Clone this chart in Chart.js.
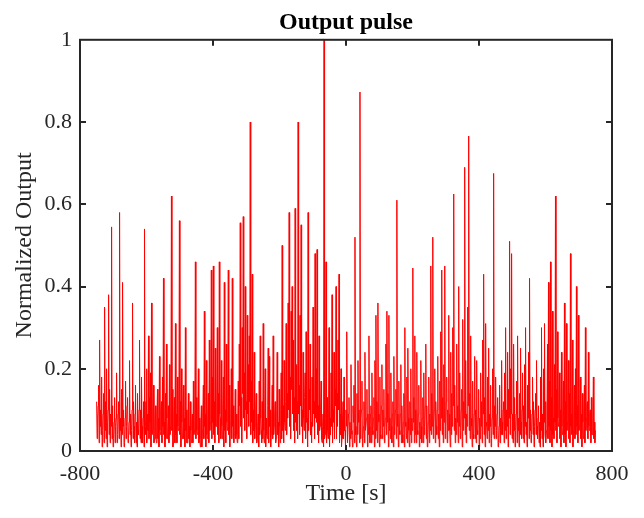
<!DOCTYPE html>
<html>
<head>
<meta charset="utf-8">
<script src="https://cdn.jsdelivr.net/npm/chart.js@4.4.1/dist/chart.umd.min.js"></script>
<style>
  html, body { margin: 0; padding: 0; background: #fff; }
  #wrap { width: 644px; height: 518px; }
</style>
</head>
<body>
<div id="wrap"><canvas id="pulse"></canvas></div>
<script>
// sampled output pulse, one value every 1.5 s starting at -750 s
const startTime = -750;
const sampleStep = 1.5;
const pulse = [
  0.12,0.03,0.08,0.11,0.16,0.02,0.27,0.06,0.10,0.04,0.18,0.01,0.05,0.09,0.14,0.02,0.35,0.05,0.12,0.03,0.20,0.01,0.07,0.10,0.38,0.04,0.15,0.02,0.09,0.06,0.545,0.03,0.11,0.01,0.03,0.07,0.13,0.02,0.06,0.08,
  0.19,0.02,0.04,0.09,0.12,0.03,0.58,0.05,0.08,0.01,0.15,0.04,0.41,0.06,0.10,0.01,0.02,0.08,0.17,0.03,0.06,0.11,0.13,0.02,0.03,0.07,0.22,0.04,0.09,0.01,0.05,0.10,0.36,0.03,0.12,0.06,0.02,0.09,0.16,0.02,
  0.07,0.01,0.14,0.05,0.04,0.10,0.27,0.03,0.10,0.02,0.18,0.06,0.02,0.08,0.12,0.01,0.54,0.04,0.06,0.12,0.20,0.02,0.09,0.05,0.28,0.03,0.13,0.07,0.19,0.01,0.36,0.04,0.05,0.09,0.16,0.02,0.03,0.07,0.11,0.03,
  0.02,0.08,0.15,0.03,0.08,0.01,0.23,0.05,0.04,0.10,0.12,0.02,0.18,0.06,0.42,0.04,0.07,0.01,0.14,0.03,0.26,0.08,0.03,0.06,0.11,0.02,0.21,0.04,0.06,0.11,0.62,0.05,0.15,0.01,0.02,0.09,0.13,0.02,0.31,0.04,
  0.09,0.02,0.18,0.06,0.05,0.11,0.56,0.04,0.12,0.01,0.20,0.07,0.03,0.09,0.16,0.03,0.08,0.01,0.30,0.05,0.10,0.02,0.02,0.08,0.14,0.03,0.06,0.01,0.12,0.05,0.02,0.07,0.09,0.02,0.17,0.04,0.05,0.10,0.46,0.03,
  0.13,0.05,0.04,0.10,0.20,0.02,0.08,0.03,0.01,0.07,0.11,0.01,0.05,0.09,0.16,0.03,0.34,0.06,0.09,0.01,0.22,0.04,0.03,0.08,0.14,0.02,0.27,0.05,0.07,0.12,0.44,0.03,0.18,0.07,0.45,0.04,0.12,0.02,0.25,0.06,
  0.06,0.12,0.30,0.04,0.14,0.02,0.46,0.09,0.08,0.03,0.22,0.06,0.03,0.10,0.18,0.01,0.41,0.05,0.10,0.02,0.26,0.07,0.05,0.13,0.44,0.04,0.16,0.01,0.07,0.09,0.20,0.03,0.42,0.06,0.11,0.02,0.04,0.08,0.15,0.03,
  0.09,0.04,0.02,0.08,0.17,0.03,0.26,0.11,0.555,0.06,0.13,0.02,0.30,0.14,0.57,0.08,0.19,0.05,0.40,0.10,0.12,0.03,0.33,0.09,0.21,0.06,0.28,0.12,0.80,0.04,0.17,0.07,0.43,0.02,0.10,0.05,0.24,0.03,0.06,0.10,
  0.14,0.02,0.03,0.06,0.09,0.01,0.17,0.04,0.28,0.08,0.05,0.02,0.12,0.03,0.31,0.05,0.02,0.09,0.20,0.01,0.08,0.04,0.03,0.11,0.25,0.02,0.23,0.06,0.10,0.01,0.04,0.08,0.16,0.03,0.28,0.04,0.06,0.09,0.12,0.02,
  0.03,0.09,0.24,0.04,0.07,0.01,0.15,0.06,0.02,0.10,0.19,0.03,0.50,0.05,0.11,0.02,0.22,0.07,0.05,0.12,0.31,0.04,0.14,0.08,0.36,0.10,0.58,0.06,0.18,0.03,0.34,0.15,0.40,0.09,0.27,0.05,0.13,0.02,0.59,0.07,
  0.21,0.05,0.12,0.03,0.80,0.09,0.16,0.04,0.33,0.11,0.55,0.06,0.10,0.02,0.24,0.08,0.05,0.13,0.19,0.03,0.29,0.07,0.08,0.01,0.58,0.05,0.15,0.10,0.26,0.04,0.07,0.02,0.18,0.06,0.35,0.09,0.12,0.03,0.48,0.08,
  0.20,0.07,0.49,0.04,0.11,0.02,0.28,0.05,0.06,0.10,0.17,0.03,0.02,0.06,0.09,0.01,1.00,0.03,0.04,0.08,0.46,0.02,0.13,0.05,0.03,0.09,0.30,0.01,0.08,0.04,0.19,0.06,0.38,0.02,0.10,0.07,0.24,0.03,0.15,0.11,
  0.40,0.03,0.14,0.06,0.27,0.10,0.43,0.02,0.09,0.04,0.20,0.01,0.03,0.08,0.12,0.03,0.18,0.05,0.05,0.01,0.10,0.06,0.29,0.02,0.02,0.09,0.13,0.01,0.07,0.03,0.21,0.05,0.04,0.01,0.11,0.07,0.16,0.02,0.52,0.04,
  0.06,0.01,0.14,0.04,0.22,0.07,0.10,0.02,0.873,0.03,0.08,0.10,0.17,0.01,0.03,0.06,0.12,0.02,0.24,0.05,0.05,0.08,0.15,0.01,0.09,0.04,0.28,0.06,0.02,0.09,0.11,0.02,0.19,0.05,0.04,0.08,0.13,0.01,0.22,0.03,
  0.33,0.05,0.12,0.02,0.36,0.09,0.07,0.01,0.18,0.04,0.03,0.11,0.21,0.03,0.10,0.06,0.15,0.02,0.05,0.08,0.26,0.04,0.34,0.07,0.14,0.01,0.33,0.05,0.08,0.03,0.19,0.06,0.02,0.09,0.12,0.01,0.23,0.04,0.06,0.10,
  0.15,0.03,0.61,0.06,0.09,0.01,0.17,0.05,0.04,0.09,0.21,0.02,0.11,0.04,0.02,0.07,0.14,0.01,0.30,0.06,0.07,0.03,0.18,0.02,0.25,0.08,0.05,0.01,0.12,0.04,0.20,0.02,0.08,0.05,0.445,0.07,0.13,0.02,0.28,0.04,
  0.10,0.02,0.24,0.05,0.04,0.09,0.16,0.01,0.07,0.03,0.22,0.06,0.02,0.08,0.13,0.02,0.19,0.04,0.06,0.11,0.26,0.03,0.11,0.01,0.03,0.07,0.18,0.02,0.09,0.05,0.45,0.04,0.14,0.06,0.52,0.03,0.07,0.10,0.20,0.02,
  0.12,0.06,0.04,0.10,0.23,0.03,0.09,0.01,0.17,0.05,0.29,0.08,0.44,0.04,0.13,0.02,0.21,0.07,0.45,0.03,0.06,0.12,0.18,0.02,0.10,0.05,0.33,0.09,0.05,0.01,0.24,0.04,0.14,0.06,0.30,0.11,0.625,0.05,0.16,0.02,
  0.08,0.04,0.26,0.07,0.11,0.02,0.40,0.06,0.19,0.03,0.05,0.10,0.15,0.01,0.32,0.05,0.12,0.08,0.69,0.04,0.22,0.02,0.09,0.06,0.35,0.11,0.766,0.05,0.14,0.03,0.28,0.08,0.06,0.01,0.17,0.04,0.03,0.09,0.23,0.03,
  0.10,0.02,0.22,0.05,0.04,0.08,0.15,0.01,0.08,0.03,0.19,0.06,0.12,0.02,0.27,0.09,0.43,0.04,0.13,0.01,0.31,0.07,0.06,0.03,0.18,0.05,0.25,0.02,0.09,0.06,0.16,0.01,0.03,0.08,0.20,0.04,0.675,0.03,0.11,0.06,
  0.18,0.03,0.05,0.09,0.13,0.01,0.02,0.06,0.16,0.02,0.08,0.04,0.22,0.07,0.04,0.10,0.12,0.02,0.19,0.05,0.30,0.03,0.10,0.06,0.24,0.01,0.15,0.08,0.51,0.04,0.20,0.09,0.48,0.03,0.09,0.02,0.26,0.05,0.13,0.01,
  0.05,0.09,0.17,0.02,0.28,0.05,0.08,0.01,0.14,0.04,0.25,0.07,0.03,0.10,0.19,0.03,0.11,0.02,0.21,0.06,0.30,0.04,0.07,0.01,0.16,0.08,0.24,0.03,0.42,0.05,0.10,0.02,0.04,0.09,0.18,0.04,0.12,0.01,0.06,0.10,
  0.14,0.04,0.22,0.06,0.03,0.08,0.11,0.02,0.07,0.01,0.18,0.05,0.30,0.03,0.09,0.01,0.20,0.07,0.31,0.04,0.12,0.02,0.05,0.09,0.26,0.03,0.41,0.06,0.17,0.02,0.46,0.05,0.13,0.01,0.34,0.04,0.08,0.03,0.21,0.07,
  0.62,0.05,0.15,0.02,0.29,0.08,0.06,0.11,0.19,0.03,0.10,0.01,0.24,0.06,0.04,0.09,0.17,0.02,0.36,0.04,0.12,0.01,0.31,0.05,0.07,0.12,0.22,0.03,0.14,0.02,0.48,0.06,0.09,0.04,0.27,0.01,0.05,0.08,0.16,0.03,
  0.20,0.04,0.40,0.06,0.11,0.02,0.33,0.05,0.06,0.10,0.18,0.03,0.09,0.01,0.14,0.07,0.03,0.09,0.16,0.02,0.30,0.05,0.08,0.11,0.12,0.03,0.24,0.06,0.05,0.09,0.10,0.02,0.13,0.04,0.04,0.08,0.18,0.03,0.07,0.02,
  0.05
];
const xTicks = [-800, -400, 0, 400, 800];
const yTicks = [0, 0.2, 0.4, 0.6, 0.8, 1];

const serif = "'Liberation Serif', 'Times New Roman', serif";
const ink = '#262626';

const points = pulse.map((v, i) => ({ x: startTime + i * sampleStep, y: v }));

// MATLAB style box with inward ticks on all four sides
const boxPlugin = {
  id: 'box',
  afterDraw(chart) {
    const { ctx, chartArea: a, scales } = chart;
    const len = 6;
    ctx.save();
    ctx.strokeStyle = ink;
    ctx.lineWidth = 2;
    ctx.beginPath();
    xTicks.forEach(t => {
      const px = Math.round(scales.x.getPixelForValue(t));
      if (px <= a.left + 1 || px >= a.right - 1) return;
      ctx.moveTo(px, a.bottom); ctx.lineTo(px, a.bottom - len);
      ctx.moveTo(px, a.top); ctx.lineTo(px, a.top + len);
    });
    yTicks.forEach(t => {
      const py = Math.round(scales.y.getPixelForValue(t));
      if (py <= a.top + 1 || py >= a.bottom - 1) return;
      ctx.moveTo(a.left, py); ctx.lineTo(a.left + len, py);
      ctx.moveTo(a.right, py); ctx.lineTo(a.right - len, py);
    });
    ctx.stroke();
    ctx.strokeRect(a.left, a.top, a.right - a.left, a.bottom - a.top);
    ctx.restore();
  }
};

new Chart(document.getElementById('pulse'), {
  type: 'line',
  data: {
    datasets: [{
      data: points,
      borderColor: 'rgb(255,0,0)',
      borderWidth: 1,
      pointRadius: 0,
      tension: 0,
      fill: false
    }]
  },
  options: {
    responsive: true,
    maintainAspectRatio: false,
    animation: false,
    layout: { padding: { left: 0, right: 32, top: 0, bottom: 0 } },
    plugins: {
      legend: { display: false },
      tooltip: { enabled: false },
      title: {
        display: true,
        text: 'Output pulse',
        fullSize: false,
        color: '#000',
        font: { family: serif, size: 24, weight: 'bold' },
        padding: { top: 8, bottom: 3 }
      }
    },
    scales: {
      x: {
        type: 'linear',
        min: -800,
        max: 800,
        afterBuildTicks: s => { s.ticks = xTicks.map(v => ({ value: v })); },
        afterFit: s => { s.height = 67; },
        grid: { display: false, drawTicks: false },
        border: { display: false },
        ticks: { color: ink, padding: 10, maxRotation: 0, font: { family: serif, size: 22 } },
        title: {
          display: true,
          text: 'Time [s]',
          color: ink,
          font: { family: serif, size: 24 },
          padding: { top: 0, bottom: 10 }
        }
      },
      y: {
        min: 0,
        max: 1,
        afterBuildTicks: s => { s.ticks = yTicks.map(v => ({ value: v })); },
        afterFit: s => { s.width = 80; },
        grid: { display: false, drawTicks: false },
        border: { display: false },
        ticks: {
          color: ink,
          padding: 8,
          font: { family: serif, size: 22 },
          callback: v => String(Math.round(v * 10) / 10)
        },
        title: {
          display: true,
          text: 'Normalized Output',
          color: ink,
          font: { family: serif, size: 24 },
          padding: { top: 10, bottom: 0 }
        }
      }
    }
  },
  plugins: [boxPlugin]
});
</script>
</body>
</html>
